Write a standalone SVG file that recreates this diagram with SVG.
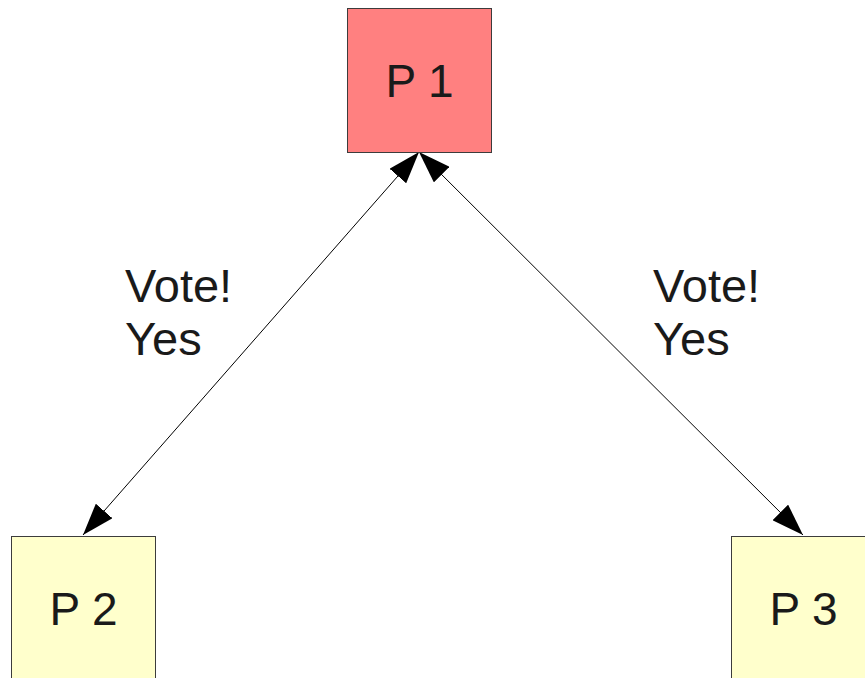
<svg xmlns="http://www.w3.org/2000/svg" width="865" height="678" viewBox="0 0 865 678">
<style>
.box{stroke:#3c3c3c;stroke-width:1}
.lbl{font-family:"Liberation Sans",Arial,sans-serif;font-size:46px;fill:#1a1a1a}
.elbl{font-family:"Liberation Sans",Arial,sans-serif;font-size:47px;fill:#1a1a1a}
.edge{stroke:#000;stroke-width:1;fill:none}
</style>
<defs>
<marker id="ah" viewBox="0 0 32 22" refX="32" refY="11" markerWidth="32" markerHeight="22" markerUnits="userSpaceOnUse" orient="auto-start-reverse">
<path d="M0,0 L32,11 L0,22 Z" fill="#000"/>
</marker>
</defs>
<rect width="865" height="678" fill="#fff"/>
<g id="connectors">
<line class="edge" x1="419" y1="152" x2="83" y2="535" marker-start="url(#ah)" marker-end="url(#ah)"/>
<line class="edge" x1="419" y1="152" x2="803" y2="535" marker-start="url(#ah)" marker-end="url(#ah)"/>
<text class="elbl" x="125" y="302">Vote!</text>
<text class="elbl" x="125" y="355">Yes</text>
<text class="elbl" x="653" y="302">Vote!</text>
<text class="elbl" x="653" y="355">Yes</text>
</g>
<g id="p1">
<rect class="box" x="347.5" y="8.5" width="144" height="144" fill="#ff8080"/>
<text class="lbl" x="419.5" y="97" text-anchor="middle">P 1</text>
</g>
<g id="p2">
<rect class="box" x="11.5" y="536.5" width="144" height="150" fill="#ffffcc"/>
<text class="lbl" x="83.5" y="625" text-anchor="middle">P 2</text>
</g>
<g id="p3">
<rect class="box" x="731.5" y="536.5" width="144" height="150" fill="#ffffcc"/>
<text class="lbl" x="803.5" y="625" text-anchor="middle">P 3</text>
</g>
</svg>
